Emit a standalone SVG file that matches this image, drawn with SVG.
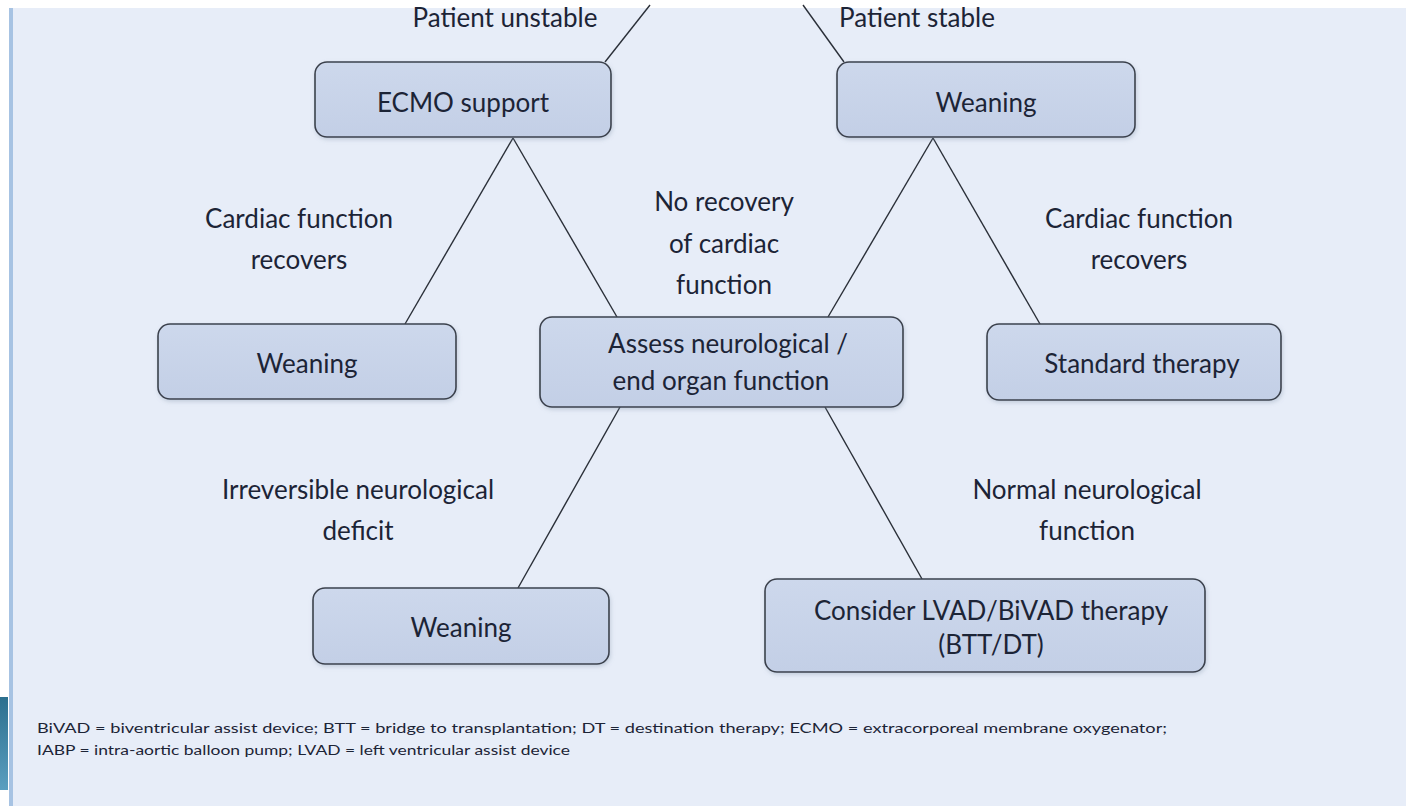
<svg xmlns="http://www.w3.org/2000/svg" width="1406" height="812" viewBox="0 0 1406 812">
<style>
.box{fill:url(#g);stroke:#3b414c;stroke-width:1.6}
.t{font-family:"Lato","Open Sans","Liberation Sans",sans-serif;font-size:26px;fill:#1c2436;text-anchor:middle}
.f{font-family:"Lato","Open Sans","Liberation Sans",sans-serif;font-size:13.5px;fill:#1c2436}
.c line{stroke:#2a2f38;stroke-width:1.4}
</style>
<defs>
<linearGradient id="g" x1="0" y1="0" x2="0" y2="1">
<stop offset="0" stop-color="#cdd8ec"/>
<stop offset="1" stop-color="#c3cfe6"/>
</linearGradient>
<linearGradient id="tl" x1="0" y1="0" x2="0" y2="1">
<stop offset="0" stop-color="#2c6f8e"/>
<stop offset="1" stop-color="#5a9fc0"/>
</linearGradient>
<filter id="sh" x="-5%" y="-5%" width="110%" height="120%">
<feDropShadow dx="1" dy="2" stdDeviation="2" flood-color="#8090a8" flood-opacity="0.35"/>
</filter>
</defs>
<rect x="0" y="0" width="1406" height="812" fill="#ffffff"/>
<rect x="10" y="8" width="1396" height="798" fill="#e7edf8"/>
<rect x="9" y="8" width="4" height="798" fill="#a7c3e3"/>
<rect x="0" y="697" width="8" height="93" fill="url(#tl)"/>

<g class="c" id="connectors">
<line x1="605" y1="62" x2="650" y2="5"/>
<line x1="844" y1="62" x2="803" y2="5"/>
<line x1="513" y1="138" x2="405" y2="324"/>
<line x1="513" y1="138" x2="617" y2="317"/>
<line x1="933" y1="138" x2="828" y2="317"/>
<line x1="933" y1="138" x2="1040" y2="324"/>
<line x1="620" y1="407" x2="518" y2="588"/>
<line x1="825" y1="407" x2="922" y2="579"/>
</g>

<g id="label-unstable"><text class="t" x="505" y="27">Patient unstable</text></g>
<g id="label-stable"><text class="t" x="917" y="27">Patient stable</text></g>

<g id="ecmo"><rect class="box" filter="url(#sh)" x="315" y="62" width="296" height="75" rx="12"/><text class="t" x="463" y="112">ECMO support</text></g>
<g id="weaning-top"><rect class="box" filter="url(#sh)" x="837" y="62" width="298" height="75" rx="12"/><text class="t" x="986" y="112">Weaning</text></g>

<g id="label-cfr-left"><text class="t" x="299" y="228">Cardiac function</text><text class="t" x="299" y="269">recovers</text></g>
<g id="label-norec"><text class="t" x="724" y="211">No recovery</text><text class="t" x="724" y="253">of cardiac</text><text class="t" x="724" y="294">function</text></g>
<g id="label-cfr-right"><text class="t" x="1139" y="228">Cardiac function</text><text class="t" x="1139" y="269">recovers</text></g>

<g id="weaning-mid"><rect class="box" filter="url(#sh)" x="158" y="324" width="298" height="75" rx="12"/><text class="t" x="307" y="373">Weaning</text></g>
<g id="assess"><rect class="box" filter="url(#sh)" x="540" y="317" width="363" height="90" rx="12"/><text class="t" x="728" y="353">Assess neurological /</text><text class="t" x="721" y="390">end organ function</text></g>
<g id="standard"><rect class="box" filter="url(#sh)" x="987" y="324" width="294" height="76" rx="12"/><text class="t" x="1142" y="373">Standard therapy</text></g>

<g id="label-irrev"><text class="t" x="358" y="499">Irreversible neurological</text><text class="t" x="358" y="540">deficit</text></g>
<g id="label-normal"><text class="t" x="1087" y="499">Normal neurological</text><text class="t" x="1087" y="540">function</text></g>

<g id="weaning-bottom"><rect class="box" filter="url(#sh)" x="313" y="588" width="296" height="76" rx="12"/><text class="t" x="461" y="637">Weaning</text></g>
<g id="lvad"><rect class="box" filter="url(#sh)" x="765" y="579" width="440" height="93" rx="12"/><text class="t" x="991" y="620">Consider LVAD/BiVAD therapy</text><text class="t" x="991" y="654">(BTT/DT)</text></g>

<g id="footnote">
<text class="f" x="37" y="733" textLength="1130" lengthAdjust="spacingAndGlyphs">BiVAD = biventricular assist device; BTT = bridge to transplantation; DT = destination therapy; ECMO = extracorporeal membrane oxygenator;</text>
<text class="f" x="37" y="755" textLength="533" lengthAdjust="spacingAndGlyphs">IABP = intra-aortic balloon pump; LVAD = left ventricular assist device</text>
</g>
</svg>
